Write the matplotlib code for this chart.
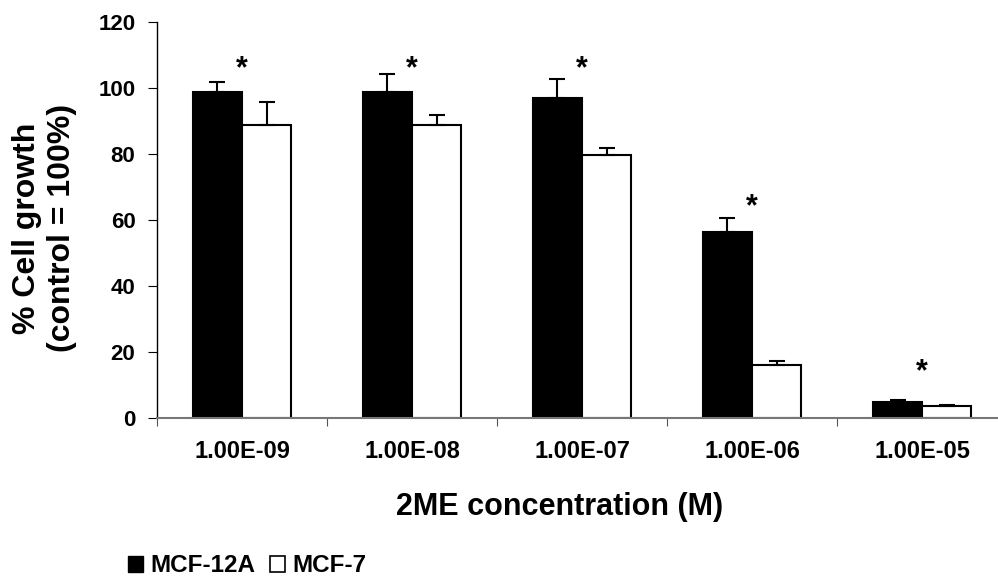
import numpy as np
import matplotlib
matplotlib.use('Agg')
from matplotlib import pyplot as plt
from matplotlib.patches import Patch

plt.rcParams['font.family'] = ['Liberation Sans', 'DejaVu Sans']
plt.rcParams['font.weight'] = 'bold'

# данные
concentrations = ['1.00E-09', '1.00E-08', '1.00E-07', '1.00E-06', '1.00E-05']
mcf12a = [98.7, 98.6, 97.0, 56.2, 4.8]
mcf12a_err = [3.0, 5.5, 5.5, 4.3, 0.5]
mcf7 = [88.8, 88.7, 79.6, 16.1, 3.6]
mcf7_err = [6.9, 3.0, 2.2, 1.0, 0.2]
star_y = [105.7, 105.7, 105.7, 63.7, 13.9]  # где стоят звёздочки

x = np.arange(len(concentrations))
w = 0.29

fig = plt.figure(figsize=(9.98, 5.78), dpi=100)
ax = fig.add_axes([0.1573, 0.2773, 0.8417, 0.6853])

ax.bar(x - w / 2, mcf12a, w, color='black', edgecolor='black', linewidth=1.5)
ax.bar(x + w / 2, mcf7, w, color='white', edgecolor='black', linewidth=1.5)
ax.errorbar(x - w / 2, mcf12a, yerr=[np.zeros(5), mcf12a_err], fmt='none',
            ecolor='black', elinewidth=1.5, capsize=5.5, capthick=1.5)
ax.errorbar(x + w / 2, mcf7, yerr=[np.zeros(5), mcf7_err], fmt='none',
            ecolor='black', elinewidth=1.5, capsize=5.5, capthick=1.5)

for xi, yi in zip(x, star_y):
    ax.text(xi, yi, '*', ha='center', va='center', fontsize=22, fontweight='bold')

ax.set_xlim(-0.5, 4.44)
ax.set_ylim(0, 120)
ax.set_yticks(range(0, 121, 20))
ax.set_xticks(x)
ax.set_xticklabels(concentrations, fontsize=17, fontweight='bold')
ax.set_xticks(np.arange(-0.5, 4.5, 1.0), minor=True)
ax.tick_params(axis='x', which='major', length=0, pad=16)
ax.tick_params(axis='x', which='minor', length=5.5, width=0.8, color='#555555')
ax.tick_params(axis='y', length=6.5, width=0.8, labelsize=16, pad=9)
for lab in ax.get_yticklabels():
    lab.set_fontweight('bold')

ax.spines['top'].set_visible(False)
ax.spines['right'].set_visible(False)
ax.spines['left'].set_linewidth(1.0)
ax.spines['bottom'].set_color('#777777')
ax.spines['bottom'].set_linewidth(1.5)

# подписи осей
fig.text(560 / 998, 1 - 507 / 578, '2ME concentration (M)', ha='center', va='center',
         fontsize=22, fontweight='bold')
fig.text(44.5 / 998, 1 - 228 / 578, '% Cell growth\n(control = 100%)', ha='center',
         va='center', rotation=90, multialignment='center', fontsize=23,
         fontweight='bold')

handles = [Patch(facecolor='black', edgecolor='black', label='MCF-12A'),
           Patch(facecolor='white', edgecolor='black', linewidth=1.2, label='MCF-7')]
fig.legend(handles=handles, loc='center left', bbox_to_anchor=(128 / 998, 1 - 566 / 578),
           ncol=2, frameon=False, fontsize=17.5, handlelength=0.62, handleheight=0.62,
           handletextpad=0.29, columnspacing=0.62, borderaxespad=0, borderpad=0)

fig.savefig('out.png', dpi=100)
